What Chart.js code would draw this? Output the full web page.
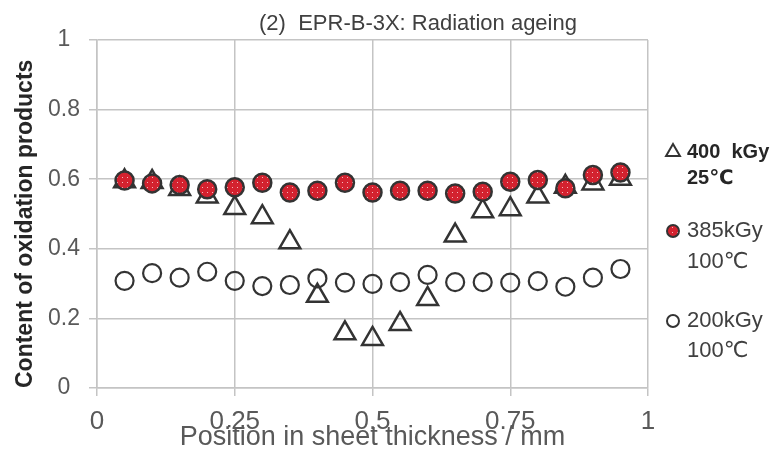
<!DOCTYPE html>
<html>
<head>
<meta charset="utf-8">
<title>EPR-B-3X radiation ageing</title>
<script src="https://cdn.jsdelivr.net/npm/chart.js@4/dist/chart.umd.min.js"></script>
<style>
  html, body { margin: 0; padding: 0; background: #fff; }
  canvas { display: block; }
</style>
</head>
<body>
<canvas id="chart" width="779" height="466"></canvas>
<script>
(function () {
  // sampling positions through the sheet (mm)
  const positions = [0.05, 0.1, 0.15, 0.2, 0.25, 0.3, 0.35, 0.4, 0.45, 0.5,
    0.55, 0.6, 0.65, 0.7, 0.75, 0.8, 0.85, 0.9, 0.95];

  // oxidation product content per series
  const dose400at25 = [0.594, 0.592, 0.572, 0.550, 0.517, 0.491, 0.419, 0.265, 0.157, 0.141,
    0.184, 0.256, 0.438, 0.508, 0.514, 0.550, 0.578, 0.588, 0.601];
  const dose385at100 = [0.596, 0.588, 0.583, 0.571, 0.577, 0.590, 0.562, 0.567, 0.590, 0.562,
    0.567, 0.567, 0.559, 0.564, 0.593, 0.598, 0.574, 0.612, 0.619];
  const dose200at100 = [0.308, 0.330, 0.317, 0.334, 0.308, 0.293, 0.296, 0.315, 0.303, 0.299,
    0.304, 0.325, 0.304, 0.304, 0.303, 0.307, 0.291, 0.317, 0.342];

  const xTicks = [0, 0.25, 0.5, 0.75, 1];
  const yTicks = [0, 0.2, 0.4, 0.6, 0.8, 1];

  const legendLines = [
    ["400  kGy", "25℃"],
    ["385kGy", "100℃"],
    ["200kGy", "100℃"],
  ];

  const TEXT_FONT = "'Liberation Sans', 'DejaVu Sans', sans-serif";
  const EDGE = "#333333";
  const GRID = "#c4c4c4";

  // red fill with a light dotted texture
  function dottedRed() {
    const tile = document.createElement("canvas");
    tile.width = 5;
    tile.height = 5;
    const t = tile.getContext("2d");
    t.fillStyle = "#d3222f";
    t.fillRect(0, 0, 5, 5);
    t.fillStyle = "rgba(255,235,235,0.75)";
    t.fillRect(2, 2, 1, 1);
    return t.createPattern(tile, "repeat");
  }
  const redFill = dottedRed();

  function points(values) {
    return positions.map((x, i) => ({ x: x, y: values[i] }));
  }

  function tickLabel(value) {
    return String(Number(value.toFixed(2)));
  }

  const datasets = [
    {
      label: "400 kGy 25℃",
      data: points(dose400at25),
      pointStyle: "triangle",
      pointRadius: 12,
      pointBorderWidth: 2.5,
      borderColor: EDGE,
      backgroundColor: "rgba(255,255,255,0)",
      showLine: false,
      order: 2,
    },
    {
      label: "385kGy 100℃",
      data: points(dose385at100),
      pointStyle: "circle",
      pointRadius: 9,
      pointBorderWidth: 2.5,
      borderColor: EDGE,
      backgroundColor: redFill,
      showLine: false,
      order: 1,
    },
    {
      label: "200kGy 100℃",
      data: points(dose200at100),
      pointStyle: "circle",
      pointRadius: 9,
      pointBorderWidth: 2.2,
      borderColor: EDGE,
      backgroundColor: "rgba(255,255,255,0)",
      showLine: false,
      order: 3,
    },
  ];

  // heading and the two-line legend on the right
  const annotations = {
    id: "annotations",
    afterDraw(chart) {
      const ctx = chart.ctx;
      ctx.save();
      ctx.textBaseline = "middle";
      ctx.textAlign = "center";
      ctx.fillStyle = "#404040";
      ctx.font = "22px " + TEXT_FONT;
      ctx.fillText("(2)  EPR-B-3X: Radiation ageing", 418, 24);

      const rows = [
        { y1: 152, y2: 178, size: 7, font: "bold 20px ", color: "#262626" },
        { y1: 231, y2: 262, size: 6, font: "22px ", color: "#404040" },
        { y1: 321, y2: 351, size: 6, font: "22px ", color: "#404040" },
      ];
      rows.forEach((r, i) => {
        const ds = chart.data.datasets[i];
        ctx.fillStyle = ds.backgroundColor;
        ctx.strokeStyle = ds.borderColor;
        ctx.lineWidth = 2;
        Chart.helpers.drawPoint(ctx, {
          pointStyle: ds.pointStyle,
          radius: ds.pointStyle === "triangle" ? 8 : r.size,
          rotation: 0,
          borderWidth: 2,
        }, 673, r.y1);
        ctx.fillStyle = r.color;
        ctx.textAlign = "left";
        ctx.font = r.font + TEXT_FONT;
        ctx.fillText(legendLines[i][0], 687, r.y1);
        ctx.fillText(legendLines[i][1], 687, r.y2);
      });
      ctx.restore();
    },
  };

  new Chart(document.getElementById("chart"), {
    type: "scatter",
    data: { datasets },
    plugins: [annotations],
    options: {
      responsive: false,
      animation: false,
      layout: { padding: { top: 40, right: 131, left: 0, bottom: 0 } },
      plugins: {
        legend: { display: false },
        title: { display: false },
        tooltip: { enabled: false },
      },
      scales: {
        x: {
          type: "linear",
          min: 0,
          max: 1,
          afterFit(scale) { scale.height = 78; },
          afterBuildTicks(scale) { scale.ticks = xTicks.map((v) => ({ value: v })); },
          grid: { color: GRID, lineWidth: 1.5, tickLength: 8 },
          border: { color: GRID, width: 1.5 },
          ticks: {
            color: "#595959",
            padding: 10,
            callback: tickLabel,
            font: { family: TEXT_FONT, size: 26 },
          },
          title: {
            display: true,
            text: "Position in sheet thickness / mm",
            color: "#595959",
            font: { family: TEXT_FONT, size: 27 },
            padding: { top: 0, bottom: 12 },
          },
        },
        y: {
          type: "linear",
          min: 0,
          max: 1,
          afterFit(scale) { scale.width = 97; },
          afterBuildTicks(scale) { scale.ticks = yTicks.map((v) => ({ value: v })); },
          grid: { color: GRID, lineWidth: 1.5, tickLength: 8 },
          border: { color: GRID, width: 1.5 },
          ticks: {
            color: "#595959",
            padding: 9,
            crossAlign: "center",
            callback: tickLabel,
            font: { family: TEXT_FONT, size: 23 },
          },
          title: {
            display: true,
            text: "Content of oxidation products",
            align: "start",
            color: "#262626",
            font: { family: TEXT_FONT, size: 23, weight: "bold" },
            padding: { top: 12, bottom: 0 },
          },
        },
      },
    },
  });
})();
</script>
</body>
</html>
